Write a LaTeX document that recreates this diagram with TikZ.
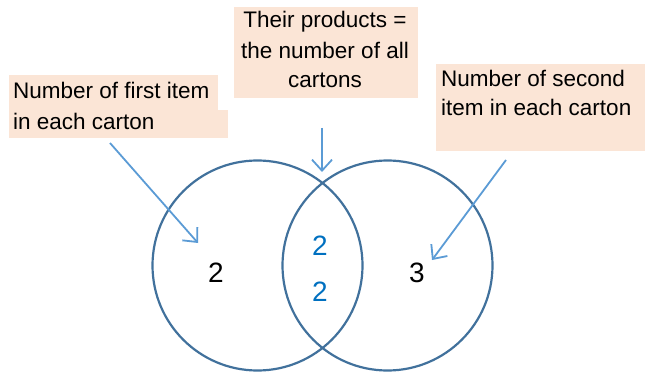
\documentclass[tikz,border=0pt]{standalone}
\usepackage{fontspec}
\setmainfont{Liberation Sans}
\usetikzlibrary{arrows.meta}
\definecolor{boxfill}{RGB}{251,229,214}
\definecolor{ringblue}{RGB}{65,113,156}
\definecolor{arrowblue}{RGB}{91,155,213}
\definecolor{numblue}{RGB}{0,112,192}
\tikzset{
  ring/.style={draw=ringblue, line width=2.2pt},
  callout/.style={draw=none, fill=boxfill},
  lbl/.style={font=\fontsize{22.5}{30}\selectfont, inner sep=0pt, align=left},
  num/.style={font=\fontsize{28}{30}\selectfont, inner sep=0pt},
  pointer/.style={draw=arrowblue, line width=1.8pt, -{Straight Barb[length=11pt,width=20pt,line width=1.8pt]}}
}
\begin{document}
\begin{tikzpicture}[x=1pt,y=-1pt]
\useasboundingbox (0,0) rectangle (645,374);
% boxes
\fill[callout] (9,75) rectangle (218,110);
\fill[callout] (9,110) rectangle (228,138);
\fill[callout] (234,7) rectangle (418,98);
\fill[callout] (436,64) rectangle (645,151);
% texts
\node[lbl, anchor=base west] (t1a) at (13,99) {Number of first item};
\node[lbl, anchor=base west] (t1b) at (13,130) {in each carton};
\node[lbl, anchor=base] (t2a) at (325,28) {Their products =};
\node[lbl, anchor=base] (t2b) at (325,59) {the number of all};
\node[lbl, anchor=base] (t2c) at (325,88) {cartons};
\node[lbl, anchor=base west] (t3a) at (441,87) {Number of second};
\node[lbl, anchor=base west] (t3b) at (441,116) {item in each carton};
% circles
\node[ring, circle, minimum size=210pt, inner sep=0pt] (cl) at (257.5,265.5) {};
\node[ring, circle, minimum size=210pt, inner sep=0pt] (cr) at (387.5,265.5) {};
% numbers
\node[num] (nl) at (216,273) {2};
\node[num, text=numblue] (nm1) at (320,246) {2};
\node[num, text=numblue] (nm2) at (320,292) {2};
\node[num] (nr) at (417,273) {3};
% arrows
\coordinate (a1s) at (110,143);
\coordinate (a1e) at (198,243);
\coordinate (a2s) at (322,128);
\coordinate (a2e) at (322,172);
\coordinate (a3s) at (506,160);
\coordinate (a3e) at (432,260);
\draw[pointer] (a1s) -- (a1e);
\draw[pointer] (a2s) -- (a2e);
\draw[pointer] (a3s) -- (a3e);
\end{tikzpicture}
\end{document}
